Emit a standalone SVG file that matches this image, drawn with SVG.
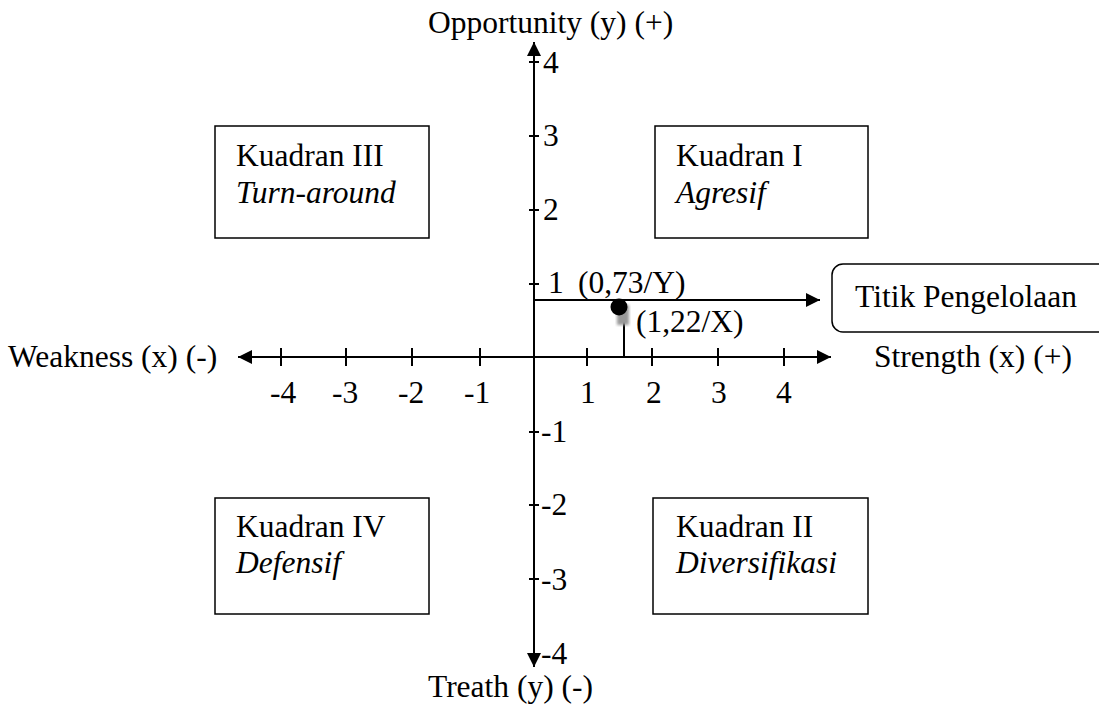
<svg xmlns="http://www.w3.org/2000/svg" width="1099" height="704" viewBox="0 0 1099 704">
<style>
text{font-family:"Liberation Serif","Times New Roman",serif;font-size:31.5px;fill:#000}
.it{font-style:italic}
.ax{stroke:#000;stroke-width:2;fill:none}
.tk{stroke:#000;stroke-width:2}
.box{fill:#fff;stroke:#000;stroke-width:1.5}
</style>
<defs>
<marker id="ah2" viewBox="0 0 10 10" refX="10" refY="5" markerWidth="16" markerHeight="14" markerUnits="userSpaceOnUse" orient="auto">
<path d="M0,0 L10,5 L0,10 z" fill="#000"/>
</marker>
<filter id="bl"><feGaussianBlur stdDeviation="1.5"/></filter>
</defs>
<g id="connectors">
<line class="ax" x1="534" y1="650" x2="534" y2="42" marker-end="url(#ah2)"/>
<line class="ax" x1="534" y1="80" x2="534" y2="667" marker-end="url(#ah2)"/>
<line class="ax" x1="250" y1="357" x2="831" y2="357" marker-end="url(#ah2)"/>
<line class="ax" x1="820" y1="357" x2="238" y2="357" marker-end="url(#ah2)"/>
<line class="ax" x1="534" y1="300" x2="820" y2="300" marker-end="url(#ah2)"/>
<line class="ax" x1="624" y1="316" x2="624" y2="357"/>
<g class="tk">
<line x1="281" y1="348" x2="281" y2="366"/><line x1="346" y1="348" x2="346" y2="366"/>
<line x1="412" y1="348" x2="412" y2="366"/><line x1="480" y1="348" x2="480" y2="366"/>
<line x1="587" y1="348" x2="587" y2="366"/><line x1="652" y1="348" x2="652" y2="366"/>
<line x1="718" y1="348" x2="718" y2="366"/><line x1="784" y1="348" x2="784" y2="366"/>
<line x1="529" y1="62" x2="539" y2="62"/><line x1="529" y1="136" x2="539" y2="136"/>
<line x1="529" y1="210" x2="539" y2="210"/><line x1="529" y1="284" x2="539" y2="284"/>
<line x1="529" y1="432" x2="539" y2="432"/><line x1="529" y1="505" x2="539" y2="505"/>
<line x1="529" y1="579" x2="539" y2="579"/><line x1="529" y1="654" x2="539" y2="654"/>
</g>
</g>
<g id="axis-labels">
<text x="428" y="33">Opportunity (y) (+)</text>
<text x="428" y="697">Treath (y) (-)</text>
<text x="8" y="367">Weakness (x) (-)</text>
<text x="874" y="367">Strength (x) (+)</text>
<text x="543" y="73">4</text><text x="543" y="146">3</text><text x="543" y="220">2</text><text x="548" y="293">1</text>
<text x="541" y="442">-1</text><text x="541" y="515">-2</text><text x="541" y="590">-3</text><text x="541" y="664">-4</text>
<text x="270" y="403">-4</text><text x="332" y="403">-3</text><text x="398" y="403">-2</text><text x="464" y="403">-1</text>
<text x="580" y="403">1</text><text x="646" y="403">2</text><text x="711" y="403">3</text><text x="776" y="403">4</text>
</g>
<g id="point">
<rect x="617" y="305" width="12" height="20" fill="#999" filter="url(#bl)"/>
<circle cx="619" cy="307" r="8.5" fill="#000"/>
<text x="578" y="293">(0,73/Y)</text>
<text x="636" y="332">(1,22/X)</text>
</g>
<g id="kuadran-iii">
<rect class="box" x="215" y="126" width="214" height="112"/>
<text x="236" y="166">Kuadran III</text>
<text class="it" x="236" y="203">Turn-around</text>
</g>
<g id="kuadran-i">
<rect class="box" x="655" y="126" width="213" height="112"/>
<text x="676" y="166">Kuadran I</text>
<text class="it" x="676" y="203">Agresif</text>
</g>
<g id="kuadran-iv">
<rect class="box" x="215" y="498" width="214" height="116"/>
<text x="236" y="537">Kuadran IV</text>
<text class="it" x="236" y="573">Defensif</text>
</g>
<g id="kuadran-ii">
<rect class="box" x="653" y="498" width="215" height="116"/>
<text x="676" y="537">Kuadran II</text>
<text class="it" x="676" y="573">Diversifikasi</text>
</g>
<g id="titik-pengelolaan">
<rect class="box" x="832" y="264" width="290" height="68" rx="11"/>
<text x="855" y="307">Titik Pengelolaan</text>
</g>
</svg>
